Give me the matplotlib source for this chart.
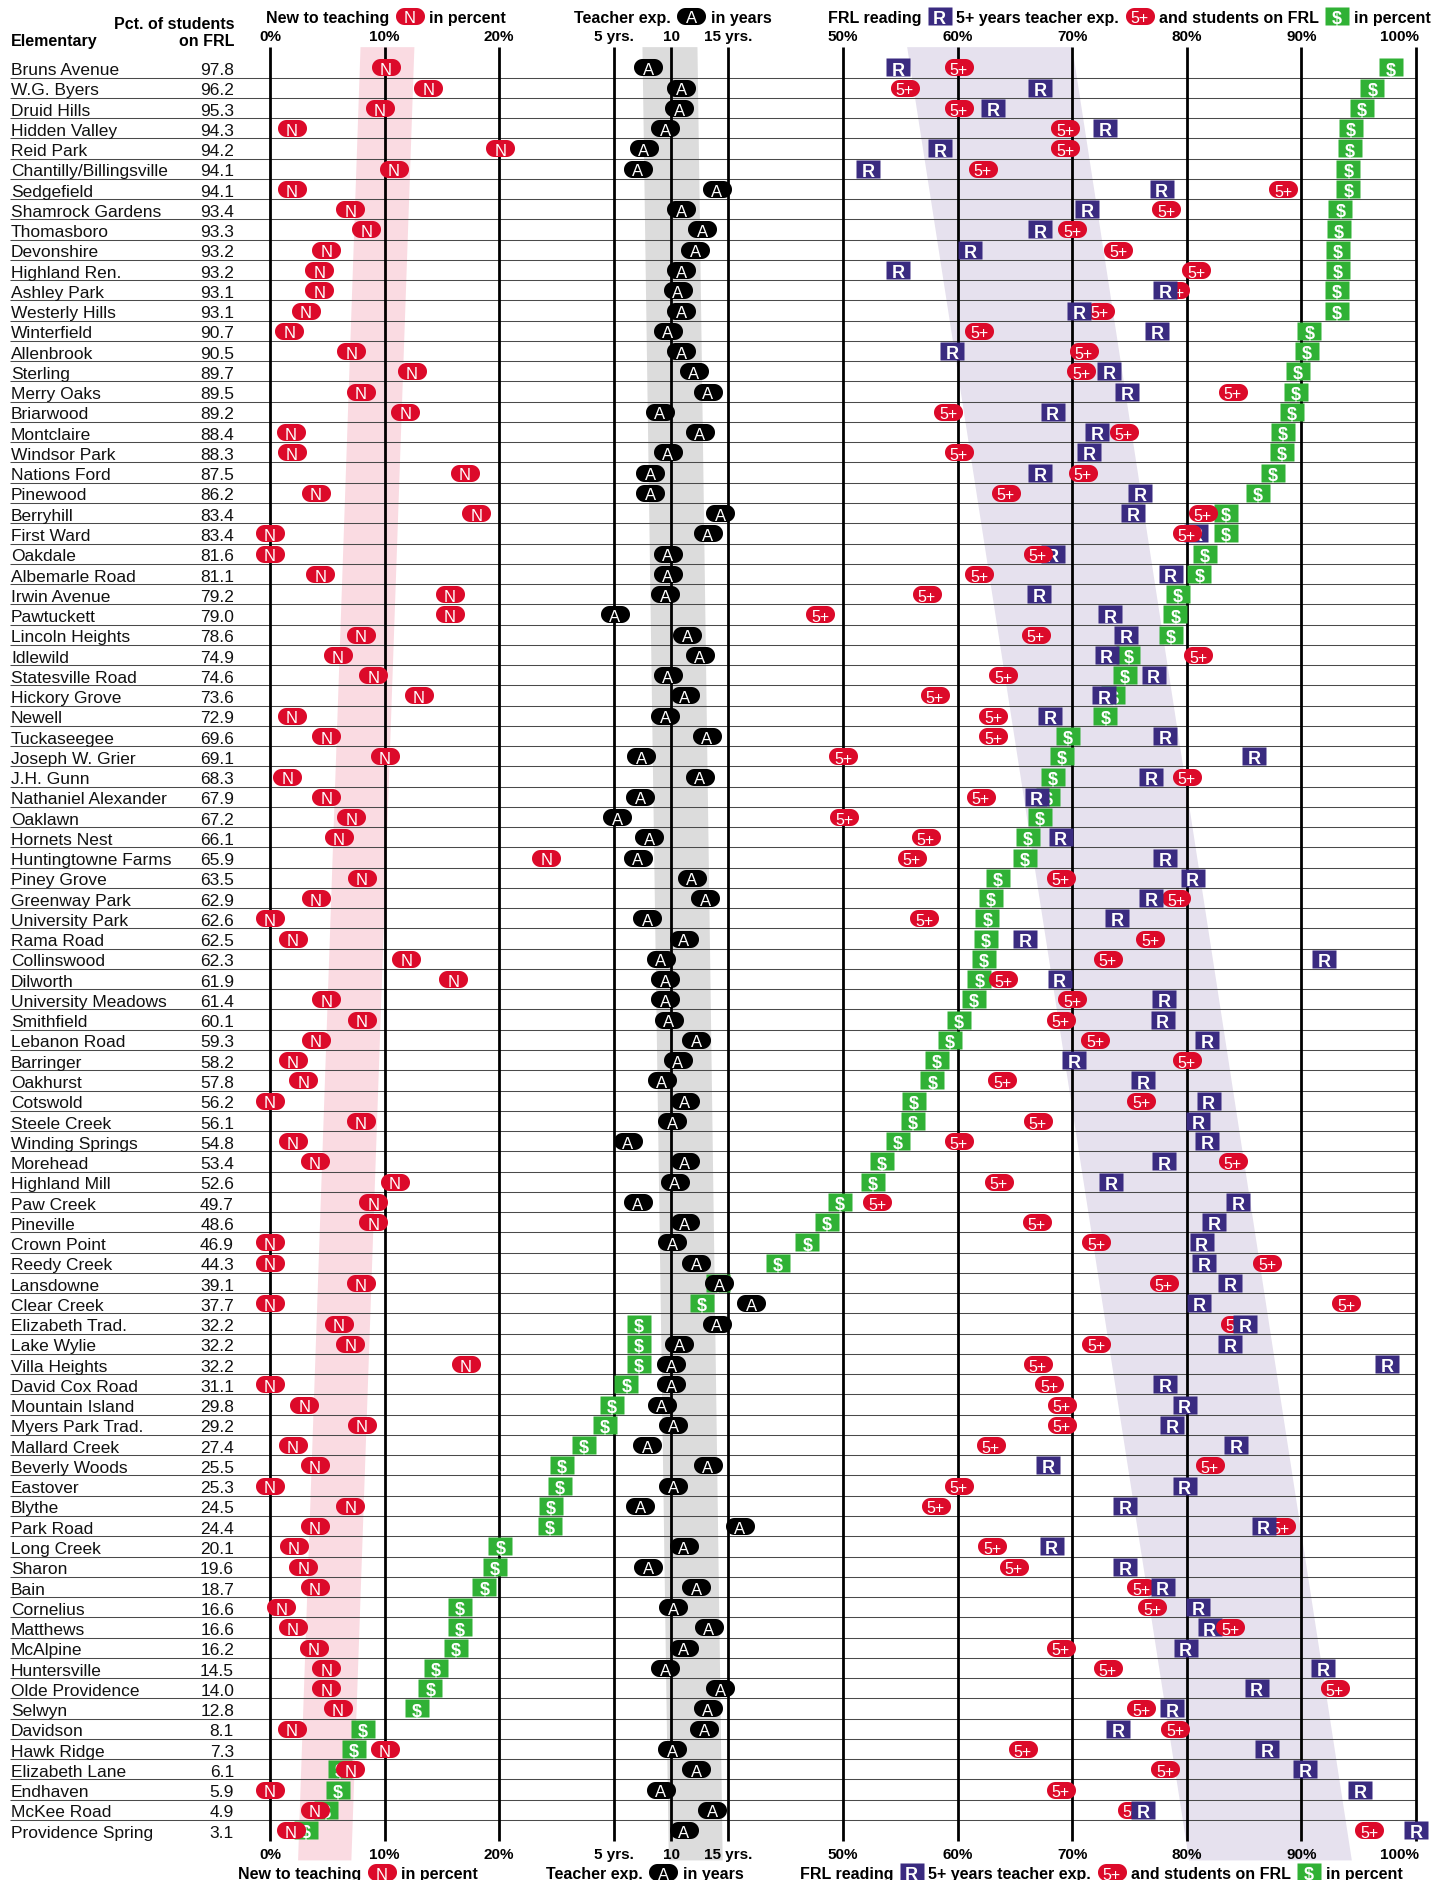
import numpy as np
import matplotlib
matplotlib.use("Agg")
import matplotlib.pyplot as plt
from matplotlib.path import Path

# ---------------- data ----------------
schools = ["Bruns Avenue", "W.G. Byers", "Druid Hills", "Hidden Valley", "Reid Park",
           "Chantilly/Billingsville", "Sedgefield", "Shamrock Gardens", "Thomasboro", "Devonshire",
           "Highland Ren.", "Ashley Park", "Westerly Hills", "Winterfield", "Allenbrook",
           "Sterling", "Merry Oaks", "Briarwood", "Montclaire", "Windsor Park",
           "Nations Ford", "Pinewood", "Berryhill", "First Ward", "Oakdale",
           "Albemarle Road", "Irwin Avenue", "Pawtuckett", "Lincoln Heights", "Idlewild",
           "Statesville Road", "Hickory Grove", "Newell", "Tuckaseegee", "Joseph W. Grier",
           "J.H. Gunn", "Nathaniel Alexander", "Oaklawn", "Hornets Nest", "Huntingtowne Farms",
           "Piney Grove", "Greenway Park", "University Park", "Rama Road", "Collinswood",
           "Dilworth", "University Meadows", "Smithfield", "Lebanon Road", "Barringer",
           "Oakhurst", "Cotswold", "Steele Creek", "Winding Springs", "Morehead",
           "Highland Mill", "Paw Creek", "Pineville", "Crown Point", "Reedy Creek",
           "Lansdowne", "Clear Creek", "Elizabeth Trad.", "Lake Wylie", "Villa Heights",
           "David Cox Road", "Mountain Island", "Myers Park Trad.", "Mallard Creek", "Beverly Woods",
           "Eastover", "Blythe", "Park Road", "Long Creek", "Sharon",
           "Bain", "Cornelius", "Matthews", "McAlpine", "Huntersville",
           "Olde Providence", "Selwyn", "Davidson", "Hawk Ridge", "Elizabeth Lane",
           "Endhaven", "McKee Road", "Providence Spring"]

frl = [97.8, 96.2, 95.3, 94.3, 94.2, 94.1, 94.1, 93.4, 93.3, 93.2,
       93.2, 93.1, 93.1, 90.7, 90.5, 89.7, 89.5, 89.2, 88.4, 88.3,
       87.5, 86.2, 83.4, 83.4, 81.6, 81.1, 79.2, 79.0, 78.6, 74.9,
       74.6, 73.6, 72.9, 69.6, 69.1, 68.3, 67.9, 67.2, 66.1, 65.9,
       63.5, 62.9, 62.6, 62.5, 62.3, 61.9, 61.4, 60.1, 59.3, 58.2,
       57.8, 56.2, 56.1, 54.8, 53.4, 52.6, 49.7, 48.6, 46.9, 44.3,
       39.1, 37.7, 32.2, 32.2, 32.2, 31.1, 29.8, 29.2, 27.4, 25.5,
       25.3, 24.5, 24.4, 20.1, 19.6, 18.7, 16.6, 16.6, 16.2, 14.5,
       14.0, 12.8, 8.1, 7.3, 6.1, 5.9, 4.9, 3.1]

new_to_teaching = [10.1, 13.8, 9.6, 1.9, 20.1, 10.8, 1.9, 7.0, 8.4, 4.9,
                   4.3, 4.3, 3.1, 1.7, 7.1, 12.4, 7.9, 11.8, 1.8, 1.9,
                   17.0, 4.0, 18.0, 0.0, 0.0, 4.4, 15.7, 15.7, 7.9, 5.9,
                   9.0, 13.0, 1.9, 4.9, 10.0, 1.5, 4.9, 7.1, 6.0, 24.1,
                   8.0, 4.0, 0.0, 2.0, 11.9, 16.0, 4.9, 8.0, 4.0, 2.0,
                   2.9, 0.0, 7.9, 2.0, 3.9, 10.9, 9.0, 9.0, 0.0, 0.0,
                   7.9, 0.0, 6.0, 7.0, 17.1, 0.0, 3.0, 8.0, 2.0, 3.9,
                   0.0, 7.0, 3.9, 2.1, 2.9, 3.9, 1.0, 2.0, 3.8, 4.9,
                   4.9, 5.9, 1.9, 10.0, 7.0, 0.0, 3.9, 1.8]

teacher_exp_years = [8.0, 10.9, 10.7, 9.5, 7.6, 7.1, 14.0, 10.9, 12.7, 12.1,
                     10.9, 10.6, 10.9, 9.7, 10.9, 12.0, 13.2, 9.0, 12.5, 9.7,
                     8.2, 8.2, 14.3, 13.2, 9.7, 9.7, 9.5, 5.1, 11.4, 12.5,
                     9.7, 11.2, 9.5, 13.1, 7.4, 12.5, 7.3, 5.3, 8.1, 7.1,
                     11.8, 13.0, 7.9, 11.1, 9.1, 9.5, 9.5, 9.8, 12.2, 10.6,
                     9.2, 11.2, 10.1, 6.2, 11.2, 10.3, 7.1, 11.2, 10.1, 12.2,
                     14.2, 17.0, 14.0, 10.7, 10.0, 10.0, 9.2, 10.2, 7.9, 13.2,
                     10.2, 7.3, 16.0, 11.1, 8.0, 12.2, 10.2, 13.3, 11.1, 9.5,
                     14.3, 13.2, 12.9, 10.1, 12.2, 9.1, 13.6, 11.1]

frl_reading = [54.8, 67.2, 63.1, 72.9, 58.5, 52.2, 77.8, 71.3, 67.2, 61.1,
               54.8, 78.1, 70.6, 77.4, 59.5, 73.2, 74.8, 68.3, 72.2, 71.5,
               67.2, 75.9, 75.3, 80.8, 68.3, 78.6, 67.1, 73.3, 74.7, 73.0,
               77.1, 72.8, 68.1, 78.1, 85.9, 76.9, 66.9, np.nan, 69.0, 78.1,
               80.5, 76.9, 73.9, 65.9, 92.0, 68.9, 78.0, 77.9, 81.8, 70.2,
               76.2, 81.9, 81.0, 81.8, 78.0, 73.4, 84.5, 82.4, 81.3, 81.5,
               83.8, 81.1, 85.1, 83.8, 97.5, 78.1, 79.8, 78.7, 84.3, 67.9,
               79.8, 74.6, 86.7, 68.2, 74.6, 77.9, 81.0, 82.0, 79.9, 91.9,
               86.1, 78.7, 74.0, 87.0, 90.3, 95.1, 76.2, 100.0]

five_plus_exp = [60.1, 55.4, 60.1, 69.4, 69.4, 62.2, 88.4, 78.2, 70.0, 74.0,
                 80.8, 79.0, 72.4, 61.9, 71.0, 70.8, 84.0, 59.2, 74.5, 60.1,
                 70.9, 64.2, 81.4, 80.0, 67.0, 61.9, 57.3, 48.0, 66.8, 81.0,
                 64.0, 58.0, 63.1, 63.1, 50.0, 80.0, 62.0, 50.1, 57.2, 56.0,
                 69.0, 79.1, 57.1, 76.8, 73.1, 64.0, 70.0, 69.0, 72.0, 80.0,
                 63.9, 76.0, 67.0, 60.1, 84.0, 63.6, 53.0, 66.9, 72.1, 87.0,
                 78.0, 93.9, 84.2, 72.1, 67.0, 68.0, 69.1, 69.1, 62.9, 82.0,
                 60.1, 58.1, 88.2, 63.0, 64.9, 76.0, 77.0, 83.8, 69.0, 73.1,
                 92.9, 76.0, 79.0, 65.7, 78.1, 69.0, 75.2, 95.9]

# rows where the 5+ marker is drawn above the reading marker
five_plus_on_top = ["First Ward", "Oakdale", "Matthews"]

# shaded ranges: (left, right) at top row and at bottom row
band_new_top, band_new_bot = (7.9, 12.6), (2.45, 7.1)        # percent
band_exp_top, band_exp_bot = (7.5, 12.3), (9.8, 14.5)        # years
band_frl_top, band_frl_bot = (55.6, 70.0), (80.2, 94.4)      # percent

left_pct_ticks = [0, 10, 20]
year_ticks = [5, 10, 15]
year_tick_labels = ["5 yrs.", "10", "15 yrs."]
right_pct_ticks = [50, 60, 70, 80, 90, 100]

# ---------------- layout ----------------
W_PX, H_PX, DPI = 1447, 1881, 100
X0_PX, PX_PER_PCT = 270.0, 11.46
Y0_PX, PX_PER_ROW = 68.4, 20.26
YEAR_SHIFT = 25          # years are drawn at 25 + years on the shared axis

RED = "#dc0a2a"
BLACK = "#000000"
NAVY = "#3a2b80"
GREEN = "#30b135"
PINK = "#fadbe2"
GRAY = "#dcdcdc"
LAV = "#e6e1ee"
FONT = ["Liberation Sans", "DejaVu Sans"]


def px2x(px):
    return (px - X0_PX) / PX_PER_PCT


def py2y(py):
    return (py - Y0_PX) / PX_PER_ROW


def px2pt(px):
    return px * 72.0 / DPI


def stadium(w, h, n=20):
    r = h / 2.0
    cx = w / 2.0 - r
    t1 = np.linspace(-np.pi / 2, np.pi / 2, n)
    right = np.c_[cx + r * np.cos(t1), r * np.sin(t1)]
    t2 = np.linspace(np.pi / 2, 3 * np.pi / 2, n)
    left = np.c_[-cx + r * np.cos(t2), r * np.sin(t2)]
    verts = np.vstack([right, left, right[:1]])
    codes = [Path.MOVETO] + [Path.LINETO] * (len(verts) - 2) + [Path.CLOSEPOLY]
    return Path(verts, codes)


PILL_W, PILL_H = 29, 17
RECT_W, RECT_H = 24, 18
PILL = stadium(PILL_W, PILL_H)
RECT = Path([(-RECT_W / 2, -RECT_H / 2), (RECT_W / 2, -RECT_H / 2),
             (RECT_W / 2, RECT_H / 2), (-RECT_W / 2, RECT_H / 2), (0, 0)],
            [Path.MOVETO, Path.LINETO, Path.LINETO, Path.LINETO, Path.CLOSEPOLY])

STYLES = {
    "N": dict(path=PILL, size=PILL_W, color=RED, weight="normal", fs=12, z=6),
    "A": dict(path=PILL, size=PILL_W, color=BLACK, weight="normal", fs=12, z=6),
    "5+": dict(path=PILL, size=PILL_W, color=RED, weight="normal", fs=11.5, z=4),
    "R": dict(path=RECT, size=RECT_W, color=NAVY, weight="bold", fs=13, z=5),
    "$": dict(path=RECT, size=RECT_W, color=GREEN, weight="bold", fs=13, z=3),
}


fig = plt.figure(figsize=(W_PX / DPI, H_PX / DPI), dpi=DPI)
ax = fig.add_axes([0, 0, 1, 1])
ax.axis("off")

n = len(schools)
rows = np.arange(n)

GRID_TOP, GRID_BOT = -1.0, 87.55
BAND_TOP, BAND_BOT = -1.0, 88.5


def band(top, bot, color, shift=0.0):
    xs = [top[0] + shift, top[1] + shift, bot[1] + shift, bot[0] + shift]
    ys = [BAND_TOP, BAND_TOP, BAND_BOT, BAND_BOT]
    ax.fill(xs, ys, color=color, lw=0, zorder=1)


band(band_new_top, band_new_bot, PINK)
band(band_exp_top, band_exp_bot, GRAY, shift=YEAR_SHIFT)
band(band_frl_top, band_frl_bot, LAV)

# row separators
ax.hlines(rows[:-1] + 0.5, px2x(10), 100, colors="#4a4a4a", lw=0.75, zorder=2)

# vertical reference lines
xs_grid = list(left_pct_ticks) + [YEAR_SHIFT + v for v in year_ticks] + list(right_pct_ticks)
ax.vlines(xs_grid, GRID_TOP, GRID_BOT, colors="black", lw=2.0, zorder=2.5)


def draw_series(xvals, kind, mask=None, z=None):
    st = STYLES[kind]
    z = st["z"] if z is None else z
    xv = np.asarray(xvals, dtype=float)
    ok = ~np.isnan(xv)
    if mask is not None:
        ok &= mask
    ax.plot(xv[ok], rows[ok], ls="none", marker=st["path"], markersize=px2pt(st["size"]),
            mfc=st["color"], mec="none", zorder=z)
    for x, y in zip(xv[ok], rows[ok]):
        ax.text(x, y + 0.03, kind, ha="center", va="center_baseline", color="white",
                fontsize=st["fs"], fontweight=st["weight"], family=FONT, zorder=z + 0.1)


top_mask = np.array([s in five_plus_on_top for s in schools])
draw_series(frl, "$")
draw_series(five_plus_exp, "5+", mask=~top_mask)
draw_series(five_plus_exp, "5+", mask=top_mask, z=5.5)
draw_series(frl_reading, "R")
draw_series(new_to_teaching, "N")
draw_series(YEAR_SHIFT + np.asarray(teacher_exp_years), "A")

# school names and FRL values
for i, (name, v) in enumerate(zip(schools, frl)):
    ax.text(px2x(11), i + 0.03, name, ha="left", va="center_baseline",
            fontsize=12.5, family=FONT, color="#111111")
    ax.text(px2x(234), i + 0.03, f"{v:.1f}", ha="right", va="center_baseline",
            fontsize=12.5, family=FONT, color="#111111")

# column headers
HB = dict(fontsize=11.5, fontweight="bold", family=FONT, color="black")
ax.text(px2x(11), -1.42, "Elementary", ha="left", va="center_baseline", **HB)
ax.text(px2x(234), -2.25, "Pct. of students", ha="right", va="center_baseline", **HB)
ax.text(px2x(234), -1.42, "on FRL", ha="right", va="center_baseline", **HB)

# tick labels (top and bottom)
TK = dict(fontsize=11, fontweight="bold", family=FONT, color="black", va="center_baseline")
for ty in (-1.62, 88.1):
    for v in left_pct_ticks:
        ax.text(v, ty, f"{v}%", ha="center", **TK)
    for v, lab in zip(year_ticks, year_tick_labels):
        ax.text(YEAR_SHIFT + v, ty, lab, ha="center", **TK)
    for v in right_pct_ticks:
        ax.text(v + (0.25 if v == 100 else 0), ty, f"{v}%",
                ha="right" if v == 100 else "center", **TK)

# titles with inline symbols
fig.canvas.draw()
renderer = fig.canvas.get_renderer()


def sequence(items, x_px, y):
    x = x_px
    for item in items:
        if item in STYLES:
            st = STYLES[item]
            x += 6
            cx = x + st["size"] / 2
            ax.plot([px2x(cx)], [y], ls="none", marker=st["path"], markersize=px2pt(st["size"]),
                    mfc=st["color"], mec="none", zorder=6)
            ax.text(px2x(cx), y + 0.03, item, ha="center", va="center_baseline", color="white",
                    fontsize=st["fs"], fontweight=st["weight"], family=FONT, zorder=6.1)
            x += st["size"] + 5
        else:
            t = ax.text(px2x(x), y, item, ha="left", va="center_baseline", **HB)
            bb = t.get_window_extent(renderer)
            x += bb.width


for y, starts in ((-2.55, (266, 574, 828)), (89.07, (238, 546, 800))):
    sequence(["New to teaching", "N", "in percent"], starts[0], y)
    sequence(["Teacher exp.", "A", "in years"], starts[1], y)
    sequence(["FRL reading", "R", "5+ years teacher exp.", "5+",
              "and students on FRL", "$", "in percent"], starts[2], y)

ax.set_xlim(px2x(0), px2x(W_PX))
ax.set_ylim(py2y(H_PX), py2y(0))

fig.savefig("out.png", dpi=DPI)
